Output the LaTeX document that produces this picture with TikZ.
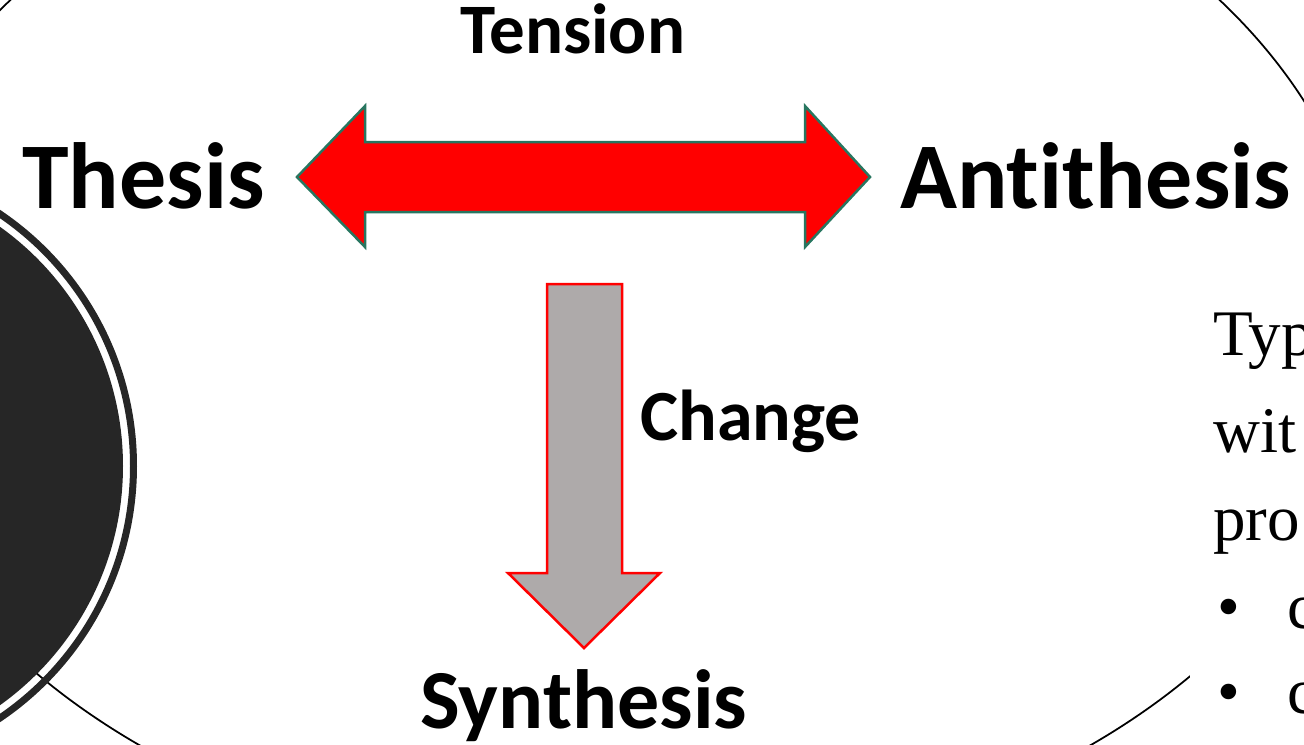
\documentclass[tikz,border=0pt]{standalone}
\usepackage{fontspec}
\setmainfont{Liberation Serif}
\newfontfamily\calibri[Ligatures=NoCommon]{Carlito}
\definecolor{arrowred}{RGB}{255,0,0}
\definecolor{edgegreen}{RGB}{40,118,96}
\definecolor{shaftgray}{RGB}{174,170,170}
\definecolor{discdark}{RGB}{38,38,38}
\tikzset{
  word/.style={font=\calibri\bfseries\fontsize{#1}{#1}\selectfont,inner sep=0pt,anchor=base west},
  prose/.style={font=\fontsize{37}{44}\selectfont,inner sep=0pt,anchor=base west},
}

\begin{document}
\begin{tikzpicture}[x=0.02cm,y=-0.02cm,line join=miter]
    \useasboundingbox (0,0) rectangle (1304,744);

    % backdrop
    \draw[line width=1pt] (615,325) ellipse [x radius=757, y radius=540];
    \fill[discdark] (-171,466) circle [radius=294];
    \draw[discdark,line width=0.14cm] (-171,466) circle [radius=304.5];
    \fill[white] (1190,290) rectangle (1320,760);

    % block arrows
    \filldraw[fill=arrowred,draw=edgegreen,line width=0.05cm]
        (297,177) -- (365,106) -- (365,142) -- (805,142) -- (805,106) -- (870,177)
        -- (805,247) -- (805,212) -- (365,212) -- (365,247) -- cycle;
    \filldraw[fill=shaftgray,draw=arrowred,line width=0.05cm]
        (547,284) -- (622,284) -- (622,573) -- (660,573) -- (584,648)
        -- (508,573) -- (547,573) -- cycle;

    % words
    \node[word=40.4] (tension) at (460,53) {Tension};
    \node[word=53.5] (thesis) at (22,208) {Thesis};
    \node[word=53.5] (antithesis) at (900,208) {Antithesis};
    \node[word=41] (change) at (640,440) {Change};
    \node[word=47.8] (synthesis) at (420,728) {Synthesis};

    % text box on the right
    \node[prose] (typ) at (1213,355) {Typ};
    \node[prose] (wit) at (1213,452) {wit};
    \node[prose] (pro) at (1213,540) {pro};
    \node[prose] (dotA) at (1217,628) {\textbullet};
    \node[prose] (itemA) at (1287,628) {c};
    \node[prose] (dotB) at (1217,713) {\textbullet};
    \node[prose] (itemB) at (1287,713) {c};
\end{tikzpicture}
\end{document}
